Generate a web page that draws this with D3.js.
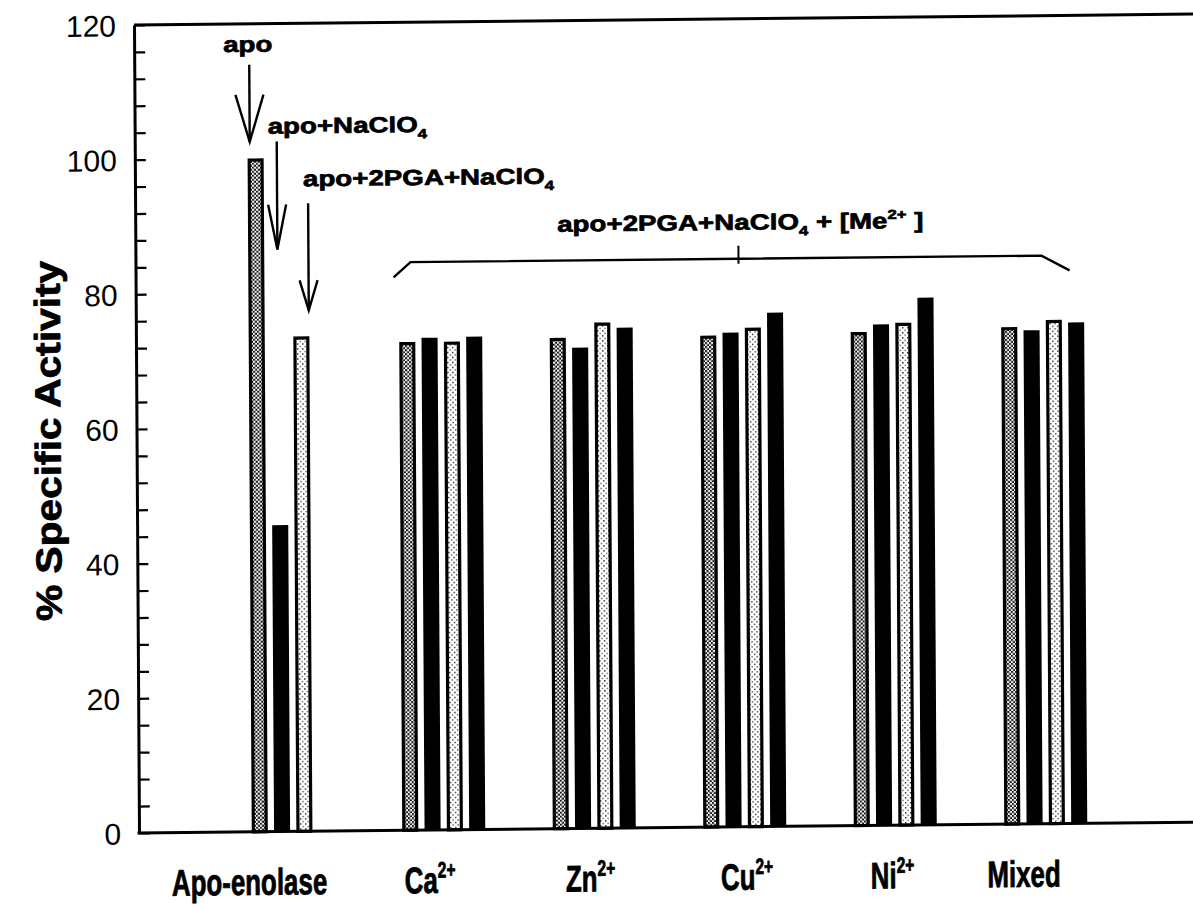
<!DOCTYPE html>
<html>
<head>
<meta charset="utf-8">
<script src="https://cdn.jsdelivr.net/npm/d3@7"></script>
<style>
  html, body { margin: 0; padding: 0; background: #fff; }
  svg { display: block; }
</style>
</head>
<body>
<svg id="chart" width="1193" height="909"></svg>
<script>
// ---- data ----
const groups = ["Apo-enolase", "Ca", "Zn", "Cu", "Ni", "Mixed"];
const groupSup = ["", "2+", "2+", "2+", "2+", ""];
// % specific activity for the four bars of every group
const seriesA = [100.0, 72.5, 72.9, 73.0, 73.3, 73.8];   // dense stipple
const seriesB = [45.5, 73.1, 71.4, 73.4, 74.4, 73.3];    // solid black
const seriesC = [73.5, 72.5, 75.1, 74.1, 74.6, 74.8];    // light stipple
const seriesD = [null, 73.2, 74.3, 76.3, 78.3, 74.4];    // solid black
const yTickLabels = [0, 20, 40, 60, 80, 100, 120];
const yTickStep = 4;
const yTitle = "% Specific Activity";

// ---- layout ----
const W = 1193, H = 909;
const plotLeft = 139, plotBottom = 833, plotTop = 25;
const svg = d3.select("#chart");

const y = d3.scaleLinear().domain([0, 120]).range([plotBottom, plotTop]);
const x0 = d3.scaleBand().domain(groups).range([218, 1121]).padding(0);
const x1 = d3.scaleBand().domain([0, 1, 2, 3]).range([-41.5, 41.5]).paddingInner(0.28).paddingOuter(0);

// fill patterns
const defs = svg.append("defs");
const dense = defs.append("pattern").attr("id", "stippleDense")
  .attr("patternUnits", "userSpaceOnUse").attr("width", 4).attr("height", 4);
dense.append("rect").attr("width", 4).attr("height", 4).attr("fill", "#fff");
dense.append("rect").attr("x", 0).attr("y", 0).attr("width", 2).attr("height", 2).attr("fill", "#111");
dense.append("rect").attr("x", 2).attr("y", 2).attr("width", 2).attr("height", 2).attr("fill", "#111");

const light = defs.append("pattern").attr("id", "stippleLight")
  .attr("patternUnits", "userSpaceOnUse").attr("width", 5).attr("height", 5);
light.append("rect").attr("width", 5).attr("height", 5).attr("fill", "#fff");
light.append("rect").attr("x", 0).attr("y", 0).attr("width", 1.4).attr("height", 1.4).attr("fill", "#222");
light.append("rect").attr("x", 2.5).attr("y", 2.5).attr("width", 1.4).attr("height", 1.4).attr("fill", "#555");

// whole figure sits on a slightly sheared frame
const g = svg.append("g")
  .attr("transform", `translate(${plotLeft},${plotBottom}) matrix(1,-0.0103,0.0062,1,0,0) translate(${-plotLeft},${-plotBottom})`);

const sansFont = "'Liberation Sans', Arial, Helvetica, sans-serif";

// ---- bars ----
const series = [
  { values: seriesA, kind: "dense" },
  { values: seriesB, kind: "black" },
  { values: seriesC, kind: "light" },
  { values: seriesD, kind: "black" }
];
const bars = [];
series.forEach((s, si) => {
  s.values.forEach((v, gi) => {
    if (v == null) return;
    bars.push({ group: groups[gi], slot: si, value: v, kind: s.kind });
  });
});
const bw = x1.bandwidth();
const sw = 3.2;
const barG = g.append("g");
barG.selectAll("rect").data(bars).join("rect")
  .attr("x", d => x0(d.group) + x0.bandwidth() / 2 + x1(d.slot) + (d.kind === "black" ? 0 : sw / 2))
  .attr("width", d => d.kind === "black" ? bw : bw - sw)
  .attr("y", d => y(d.value) + (d.kind === "black" ? 0 : sw / 2))
  .attr("height", d => y(0) - y(d.value) - (d.kind === "black" ? 0 : sw / 2))
  .attr("fill", d => d.kind === "black" ? "#000" : d.kind === "dense" ? "url(#stippleDense)" : "url(#stippleLight)")
  .attr("stroke", d => d.kind === "black" ? "none" : "#000")
  .attr("stroke-width", sw);

// ---- axes ----
const yAxis = d3.axisLeft(y)
  .tickValues(d3.range(0, 121, yTickStep))
  .tickSizeInner(-11).tickSizeOuter(0).tickPadding(18)
  .tickFormat(d => yTickLabels.includes(d) ? String(d) : "");
const ya = g.append("g").attr("transform", `translate(${plotLeft},0)`).call(yAxis);
ya.select(".domain").attr("stroke", "#000").attr("stroke-width", 3);
ya.selectAll(".tick line").attr("stroke", "#000").attr("stroke-width", 2.2);
ya.selectAll(".tick text")
  .attr("fill", "#000").attr("font-family", sansFont).attr("font-size", 30)
  .attr("dy", "0.36em");

// frame lines: top edge and baseline
g.append("line").attr("x1", plotLeft).attr("x2", W + 60).attr("y1", y(120)).attr("y2", y(120))
  .attr("stroke", "#000").attr("stroke-width", 3);
g.append("line").attr("x1", plotLeft - 1.5).attr("x2", W + 60).attr("y1", y(0)).attr("y2", y(0))
  .attr("stroke", "#000").attr("stroke-width", 3);

// ---- text helper: heavy, horizontally scaled, with sub/superscripts ----
function richText(parent, x, yy, parts, opt) {
  const fs = opt.size;
  const t = parent.append("text")
    .attr("transform", `translate(${x},${yy}) scale(${opt.sx || 1},1)`)
    .attr("font-family", sansFont)
    .attr("font-weight", "bold")
    .attr("font-size", fs)
    .attr("text-anchor", opt.anchor || "start")
    .attr("fill", "#000")
    .attr("stroke", "#000")
    .attr("stroke-width", opt.heavy || 0.7)
    .attr("stroke-linejoin", "round");
  let shift = 0;
  parts.forEach(p => {
    const sp = t.append("tspan").text(p.t);
    let target = 0;
    if (p.sub) { sp.attr("font-size", fs * 0.6); target = fs * 0.28; }
    if (p.sup) { sp.attr("font-size", fs * 0.6); target = -fs * 0.42; }
    if (target !== shift) { sp.attr("dy", target - shift); shift = target; }
  });
  return t;
}

// ---- category labels ----
const labelNudge = [-44, -14, -4, 2, -3, -22];
groups.forEach((name, i) => {
  const parts = [{ t: name }];
  if (groupSup[i]) parts.push({ t: groupSup[i], sup: true });
  richText(g, x0(name) + x0.bandwidth() / 2 + labelNudge[i], 896, parts,
    { size: 37, sx: 0.7, anchor: "middle", heavy: 0.8 });
});

// ---- y title ----
g.append("text")
  .attr("transform", `translate(63,440) rotate(-90) scale(1.13,1)`)
  .attr("text-anchor", "middle")
  .attr("font-family", sansFont).attr("font-weight", "bold").attr("font-size", 36)
  .attr("fill", "#000").attr("stroke", "#000").attr("stroke-width", 0.8)
  .attr("stroke-linejoin", "round")
  .text(yTitle);

// ---- annotations ----
const annSize = 22, annSx = 1.26;
richText(g, 228, 53, [{ t: "apo" }], { size: annSize, sx: annSx });
richText(g, 272, 135, [{ t: "apo+NaClO" }, { t: "4", sub: true }], { size: annSize, sx: annSx });
richText(g, 307, 188, [{ t: "apo+2PGA+NaClO" }, { t: "4", sub: true }], { size: annSize, sx: annSx });
richText(g, 744, 236, [
  { t: "apo+2PGA+NaClO" }, { t: "4", sub: true }, { t: " + [Me" },
  { t: "2+", sup: true }, { t: " ]" }
], { size: annSize, sx: annSx, anchor: "middle" });

// arrows pointing at the apo-enolase bars
const arrows = [
  { x: 254, y1: 66, y2: 143, head: 47, half: 14 },
  { x: 281, y1: 143, y2: 251, head: 45, half: 9 },
  { x: 312, y1: 205, y2: 312, head: 30, half: 9 }
];
const arrowG = g.append("g").attr("stroke", "#000").attr("stroke-width", 2.4).attr("fill", "none");
arrows.forEach(a => {
  arrowG.append("line").attr("x1", a.x).attr("x2", a.x).attr("y1", a.y1).attr("y2", a.y2);
  arrowG.append("path").attr("d", `M${a.x - a.half},${a.y2 - a.head}L${a.x},${a.y2}L${a.x + a.half},${a.y2 - a.head}`);
});

// bracket spanning the metal-ion groups
const bx0 = 397, bx1 = 414, bx2 = 1045, bx3 = 1073, by = 265, bEnd = 280;
g.append("path")
  .attr("d", `M${bx0},${bEnd}L${bx1},${by}L${bx2},${by}L${bx3},${bEnd}`)
  .attr("fill", "none").attr("stroke", "#000").attr("stroke-width", 2.4);
g.append("line").attr("x1", 742).attr("x2", 742).attr("y1", 252).attr("y2", 270)
  .attr("stroke", "#000").attr("stroke-width", 2);
</script>
</body>
</html>
